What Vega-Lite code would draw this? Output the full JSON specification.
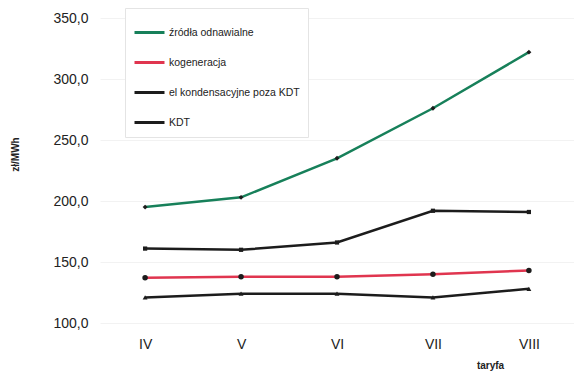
{
  "$schema": "https://vega.github.io/schema/vega-lite/v6.json",
  "width": 474,
  "height": 305,
  "autosize": "none",
  "padding": {"left": 100, "top": 18, "right": 0, "bottom": 51},
  "background": "white",
  "config": {
    "font": "Liberation Sans",
    "view": {"stroke": null}
  },
  "data": {
    "values": [
      {"taryfa": "IV", "seria": "źródła odnawialne", "v": 195},
      {"taryfa": "V", "seria": "źródła odnawialne", "v": 203},
      {"taryfa": "VI", "seria": "źródła odnawialne", "v": 235},
      {"taryfa": "VII", "seria": "źródła odnawialne", "v": 276},
      {"taryfa": "VIII", "seria": "źródła odnawialne", "v": 322},
      {"taryfa": "IV", "seria": "kogeneracja", "v": 137},
      {"taryfa": "V", "seria": "kogeneracja", "v": 138},
      {"taryfa": "VI", "seria": "kogeneracja", "v": 138},
      {"taryfa": "VII", "seria": "kogeneracja", "v": 140},
      {"taryfa": "VIII", "seria": "kogeneracja", "v": 143},
      {"taryfa": "IV", "seria": "el kondensacyjne poza KDT", "v": 121},
      {"taryfa": "V", "seria": "el kondensacyjne poza KDT", "v": 124},
      {"taryfa": "VI", "seria": "el kondensacyjne poza KDT", "v": 124},
      {"taryfa": "VII", "seria": "el kondensacyjne poza KDT", "v": 121},
      {"taryfa": "VIII", "seria": "el kondensacyjne poza KDT", "v": 128},
      {"taryfa": "IV", "seria": "KDT", "v": 161},
      {"taryfa": "V", "seria": "KDT", "v": 160},
      {"taryfa": "VI", "seria": "KDT", "v": 166},
      {"taryfa": "VII", "seria": "KDT", "v": 192},
      {"taryfa": "VIII", "seria": "KDT", "v": 191}
    ]
  },
  "encoding": {
    "x": {
      "field": "taryfa",
      "type": "ordinal",
      "sort": ["IV", "V", "VI", "VII", "VIII"],
      "scale": {"type": "point", "padding": 0.47},
      "axis": {
        "title": "taryfa",
        "titleFontSize": 10,
        "titleFontWeight": "bold",
        "titleColor": "#222",
        "titleX": 390,
        "titleY": 37,
        "titleAnchor": "start",
        "titleAlign": "center",
        "labelAngle": 0,
        "labelFontSize": 14,
        "labelColor": "#222",
        "labelPadding": 14,
        "ticks": false,
        "domain": false,
        "grid": false
      }
    },
    "y": {
      "field": "v",
      "type": "quantitative",
      "scale": {"domain": [100, 350], "nice": false, "zero": false},
      "axis": {
        "title": "zł/MWh",
        "titleFontSize": 10,
        "titleFontWeight": "bold",
        "titleColor": "#222",
        "titleX": -80,
        "titleY": 136,
        "titleAnchor": "start",
        "titleAlign": "center",
        "values": [100, 150, 200, 250, 300, 350],
        "labelExpr": "replace(format(datum.value, '.1f'), '.', ',')",
        "labelFontSize": 14,
        "labelColor": "#222",
        "labelPadding": 12,
        "ticks": false,
        "domain": false,
        "grid": true,
        "gridColor": "#f2f2f2",
        "gridWidth": 1
      }
    }
  },
  "layer": [
    {
      "mark": {"type": "line", "strokeWidth": 2.5},
      "encoding": {
        "color": {
          "field": "seria",
          "type": "nominal",
          "sort": ["źródła odnawialne", "kogeneracja", "el kondensacyjne poza KDT", "KDT"],
          "scale": {
            "domain": ["źródła odnawialne", "kogeneracja", "el kondensacyjne poza KDT", "KDT"],
            "range": ["#17805a", "#e0354f", "#1c1c1c", "#1c1c1c"]
          },
          "legend": {
            "title": null,
            "orient": "none",
            "legendX": 25,
            "legendY": -10,
            "symbolType": "stroke",
            "symbolSize": 900,
            "symbolStrokeWidth": 3,
            "labelFontSize": 10.5,
            "labelColor": "#222",
            "labelOffset": 3,
            "labelLimit": 300,
            "rowPadding": 7,
            "padding": 8,
            "strokeColor": "#e4e4e4",
            "fillColor": "white"
          }
        }
      }
    },
    {
      "transform": [{"filter": "datum.seria === 'źródła odnawialne'"}],
      "mark": {"type": "point", "shape": "diamond", "filled": true, "size": 24, "opacity": 1, "color": "#1c1c1c"}
    },
    {
      "transform": [{"filter": "datum.seria === 'kogeneracja'"}],
      "mark": {"type": "point", "shape": "circle", "filled": true, "size": 30, "opacity": 1, "color": "#1c1c1c"}
    },
    {
      "transform": [{"filter": "datum.seria === 'el kondensacyjne poza KDT'"}],
      "mark": {"type": "point", "shape": "triangle-up", "filled": true, "size": 24, "opacity": 1, "color": "#1c1c1c"}
    },
    {
      "transform": [{"filter": "datum.seria === 'KDT'"}],
      "mark": {"type": "point", "shape": "square", "filled": true, "size": 18, "opacity": 1, "color": "#1c1c1c"}
    }
  ]
}
